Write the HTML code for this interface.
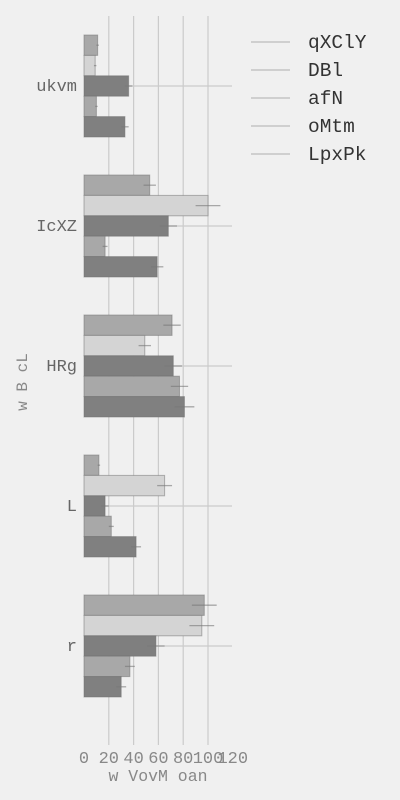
<!DOCTYPE html>
<html><head><meta charset="utf-8"><style>
body{margin:0;background:#f0f0f0;}
svg{display:block;font-family:"Liberation Mono",monospace;}
</style></head><body>
<svg id="c" width="400" height="800">
<rect width="400" height="800" fill="#f0f0f0"/>
<g id="grid"></g><g id="bars"></g><g id="axes"></g><g id="legend"></g>
</svg>
<script>
const categories=["ukvm","IcXZ","HRg","L","r"];
const series=["qXClY","DBl","afN","oMtm","LpxPk"];
const s1=[11,53,71,12,97];
const s2=[9,100,49,65,95];
const s3=[36,68,72,17,58];
const s4=[10,17,77,22,37];
const s5=[33,59,81,42,30];
const e1=[1,5,7,1,10];
const e2=[1,10,5,6,10];
const e3=[3,7,7,3,7];
const e4=[1,2,7,2,4];
const e5=[3,5,8,4,4];
const xticks=[0,20,40,60,80,100,120];
const vals=[s1,s2,s3,s4,s5], errs=[e1,e2,e3,e4,e5];
const colors=["#a8a8a8","#d4d4d4","#7f7f7f","#a8a8a8","#808080"];
const NS="http://www.w3.org/2000/svg";
const x=v=>84+v*1.24;
const yc=i=>86+i*140;
const bh=20.4;
function mk(t,a,p){const e=document.createElementNS(NS,t);for(const k in a)e.setAttribute(k,a[k]);p.appendChild(e);return e;}
const grid=document.getElementById('grid'),bars=document.getElementById('bars'),axes=document.getElementById('axes'),leg=document.getElementById('legend');
xticks.forEach(t=>{if(t>0&&t<120){const l=mk('line',{x1:x(t),x2:x(t),y1:16,y2:745,stroke:'#cbcbcb','stroke-width':1.2},grid);

}
const tx=mk('text',{x:x(t),y:763,'text-anchor':'middle','font-size':17,fill:'#888'},axes);tx.textContent=t;

});
categories.forEach((c,i)=>{const l=mk('line',{x1:84,x2:232,y1:yc(i),y2:yc(i),stroke:'#cbcbcb','stroke-width':1.2},grid);


const t=mk('text',{x:77,y:yc(i)+5,'text-anchor':'end','font-size':17,fill:'#666'},axes);t.textContent=c;


vals.forEach((s,j)=>{const y0=yc(i)-2.5*bh+j*bh;
const r=mk('rect',{x:84,y:y0,width:x(s[i])-84,height:bh,fill:colors[j],stroke:'#6e6e6e','stroke-opacity':0.5,'stroke-width':1},bars);


const e=mk('line',{x1:x(s[i]-errs[j][i]),x2:x(s[i]+errs[j][i]),y1:y0+bh/2,y2:y0+bh/2,stroke:'#777','stroke-opacity':0.6,'stroke-width':1.3},bars);

});});
series.forEach((s,j)=>{const y=42+j*28;
const l=mk('line',{x1:251,x2:290,y1:y,y2:y,stroke:'#c4c4c4','stroke-width':1.5},leg);


const t=mk('text',{x:308,y:y+6,'font-size':19.5,fill:'#333'},leg);t.textContent=s;

});
const xl=mk('text',{x:158,y:781,'text-anchor':'middle','font-size':16.5,fill:'#888'},axes);xl.textContent="w VovM oan";


const yl=mk('text',{x:0,y:0,'text-anchor':'middle','font-size':16,fill:'#888',transform:'translate(27,382) rotate(-90)'},axes);yl.textContent="w B cL";


</script>
</body></html>
